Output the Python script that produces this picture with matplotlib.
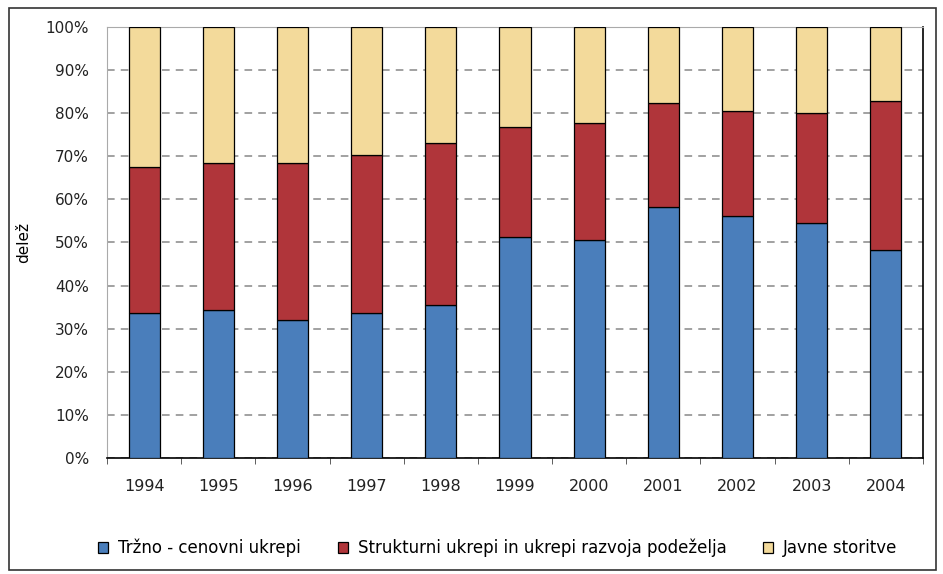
import numpy as np
from matplotlib import pyplot as plt
from matplotlib.patches import Rectangle

years = ["1994", "1995", "1996", "1997", "1998", "1999", "2000", "2001", "2002", "2003", "2004"]
trzno = [33.6, 34.3, 32.0, 33.6, 35.5, 51.3, 50.6, 58.2, 56.1, 54.5, 48.3]
strukturni = [33.9, 34.1, 36.4, 36.7, 37.6, 25.5, 27.1, 24.2, 24.4, 25.5, 34.5]
javne = [32.5, 31.6, 31.6, 29.7, 26.9, 23.2, 22.3, 17.6, 19.5, 20.0, 17.2]
labels = ["Tržno - cenovni ukrepi", "Strukturni ukrepi in ukrepi razvoja podeželja", "Javne storitve"]
colors = ["#4a7ebb", "#b0353a", "#f3da9b"]

fig = plt.figure(figsize=(9.43, 5.74), dpi=100)
fig.patch.set_facecolor("white")
ax = fig.add_axes([107/943, 116/574, 816/943, 431/574])

x = np.arange(len(years))
bottom = np.zeros(len(years))
for vals, lab, col in zip([trzno, strukturni, javne], labels, colors):
    ax.bar(x, vals, bottom=bottom, width=0.42, color=col, edgecolor="black",
           linewidth=0.9, label=lab, zorder=3)
    bottom += np.array(vals)

ax.set_xlim(-0.5, len(years) - 0.5)
ax.set_ylim(0, 100)
ax.set_yticks(np.arange(0, 101, 10))
ax.set_yticklabels([f"{v}%" for v in range(0, 101, 10)], fontsize=11, color="#222222")
ax.set_xticks(x)
ax.set_xticklabels(years, fontsize=11.5, color="#222222")
ax.set_xticks(np.arange(-0.5, len(years), 1), minor=True)
ax.tick_params(axis="x", which="major", length=0, pad=15)
ax.tick_params(axis="x", which="minor", length=4, direction="out", color="#444444")
ax.tick_params(axis="y", length=0, pad=13)
ax.yaxis.grid(True, linestyle=(0, (5, 4)), color="#888888", linewidth=1.1, zorder=0)

ax.spines["left"].set_color("#aaaaaa")
ax.spines["top"].set_color("#aaaaaa")
ax.spines["bottom"].set_color("black")
ax.spines["right"].set_color("black")
ax.spines["bottom"].set_linewidth(1.2)
ax.spines["right"].set_linewidth(1.2)

ax.set_ylabel("delež", fontsize=11, labelpad=10)

fig.legend(loc="center", bbox_to_anchor=(0.528, 0.045), ncol=3, frameon=False,
           fontsize=12, handlelength=0.6, handleheight=0.6, handletextpad=0.6,
           columnspacing=2.2)

fig.add_artist(Rectangle((9/943, 4/574), 927/943, 562/574, transform=fig.transFigure,
                         fill=False, edgecolor="#333333", linewidth=1.2))

fig.savefig("out.png", dpi=100)
